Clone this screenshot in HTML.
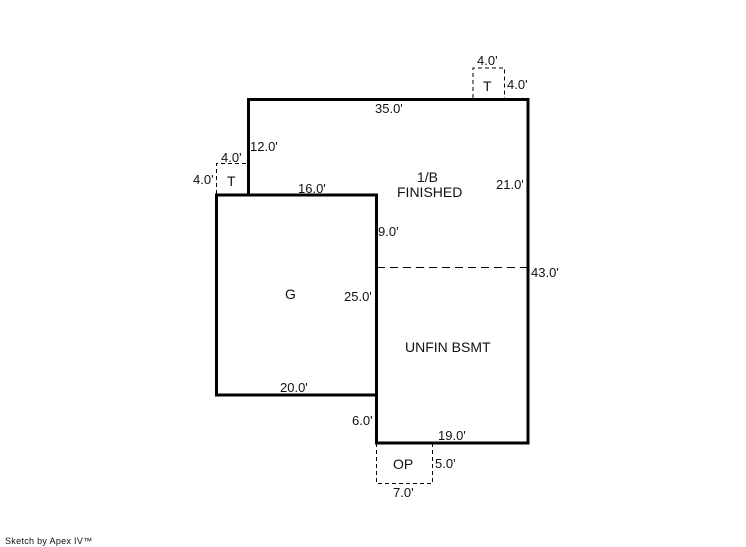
<!DOCTYPE html>
<html>
<head>
<meta charset="utf-8">
<style>
html,body{margin:0;padding:0;background:#fff;}
svg{display:block;}
text{font-family:"Liberation Sans",Arial,sans-serif;font-size:13px;fill:#111;}
.b{font-size:14px;}
</style>
</head>
<body>
<svg width="746" height="547" viewBox="0 0 746 547" xmlns="http://www.w3.org/2000/svg">
<g fill="none" stroke="#000" stroke-width="1" stroke-dasharray="4 3">
<path d="M473 98V68H504.500V98"/>
<path d="M216.500 194V163.500H248"/>
<path d="M376.500 443V483.500H432.500V443"/>
<path d="M377 267.500H528" stroke-dasharray="8 5"/>
</g>
<g fill="none" stroke="#000" stroke-width="3" stroke-linecap="square">
<path d="M248.500 195V99.500H528V443H376.500V195"/>
<path d="M376.500 195H216.500V395H376.500"/>
</g>
<text x="477" y="65">4.0'</text>
<text x="507" y="89">4.0'</text>
<text x="375" y="113">35.0'</text>
<text x="250" y="151">12.0'</text>
<text x="221" y="162">4.0'</text>
<text x="193" y="184">4.0'</text>
<text x="298" y="193">16.0'</text>
<text x="496" y="189">21.0'</text>
<text x="378" y="236">9.0'</text>
<text x="531" y="277">43.0'</text>
<text x="344" y="301">25.0'</text>
<text x="280" y="392">20.0'</text>
<text x="352" y="425">6.0'</text>
<text x="438" y="440">19.0'</text>
<text x="435" y="468">5.0'</text>
<text x="393" y="497">7.0'</text>
<text class="b" x="483" y="91">T</text>
<text class="b" x="227" y="186">T</text>
<text class="b" x="417" y="182">1/B</text>
<text class="b" x="397" y="197">FINISHED</text>
<text class="b" x="285" y="299">G</text>
<text class="b" x="405" y="352">UNFIN BSMT</text>
<text class="b" x="393" y="469">OP</text>
<text x="5" y="544" style="font-size:9px;letter-spacing:.3px;">Sketch by Apex IV™</text>
</svg>
</body>
</html>
